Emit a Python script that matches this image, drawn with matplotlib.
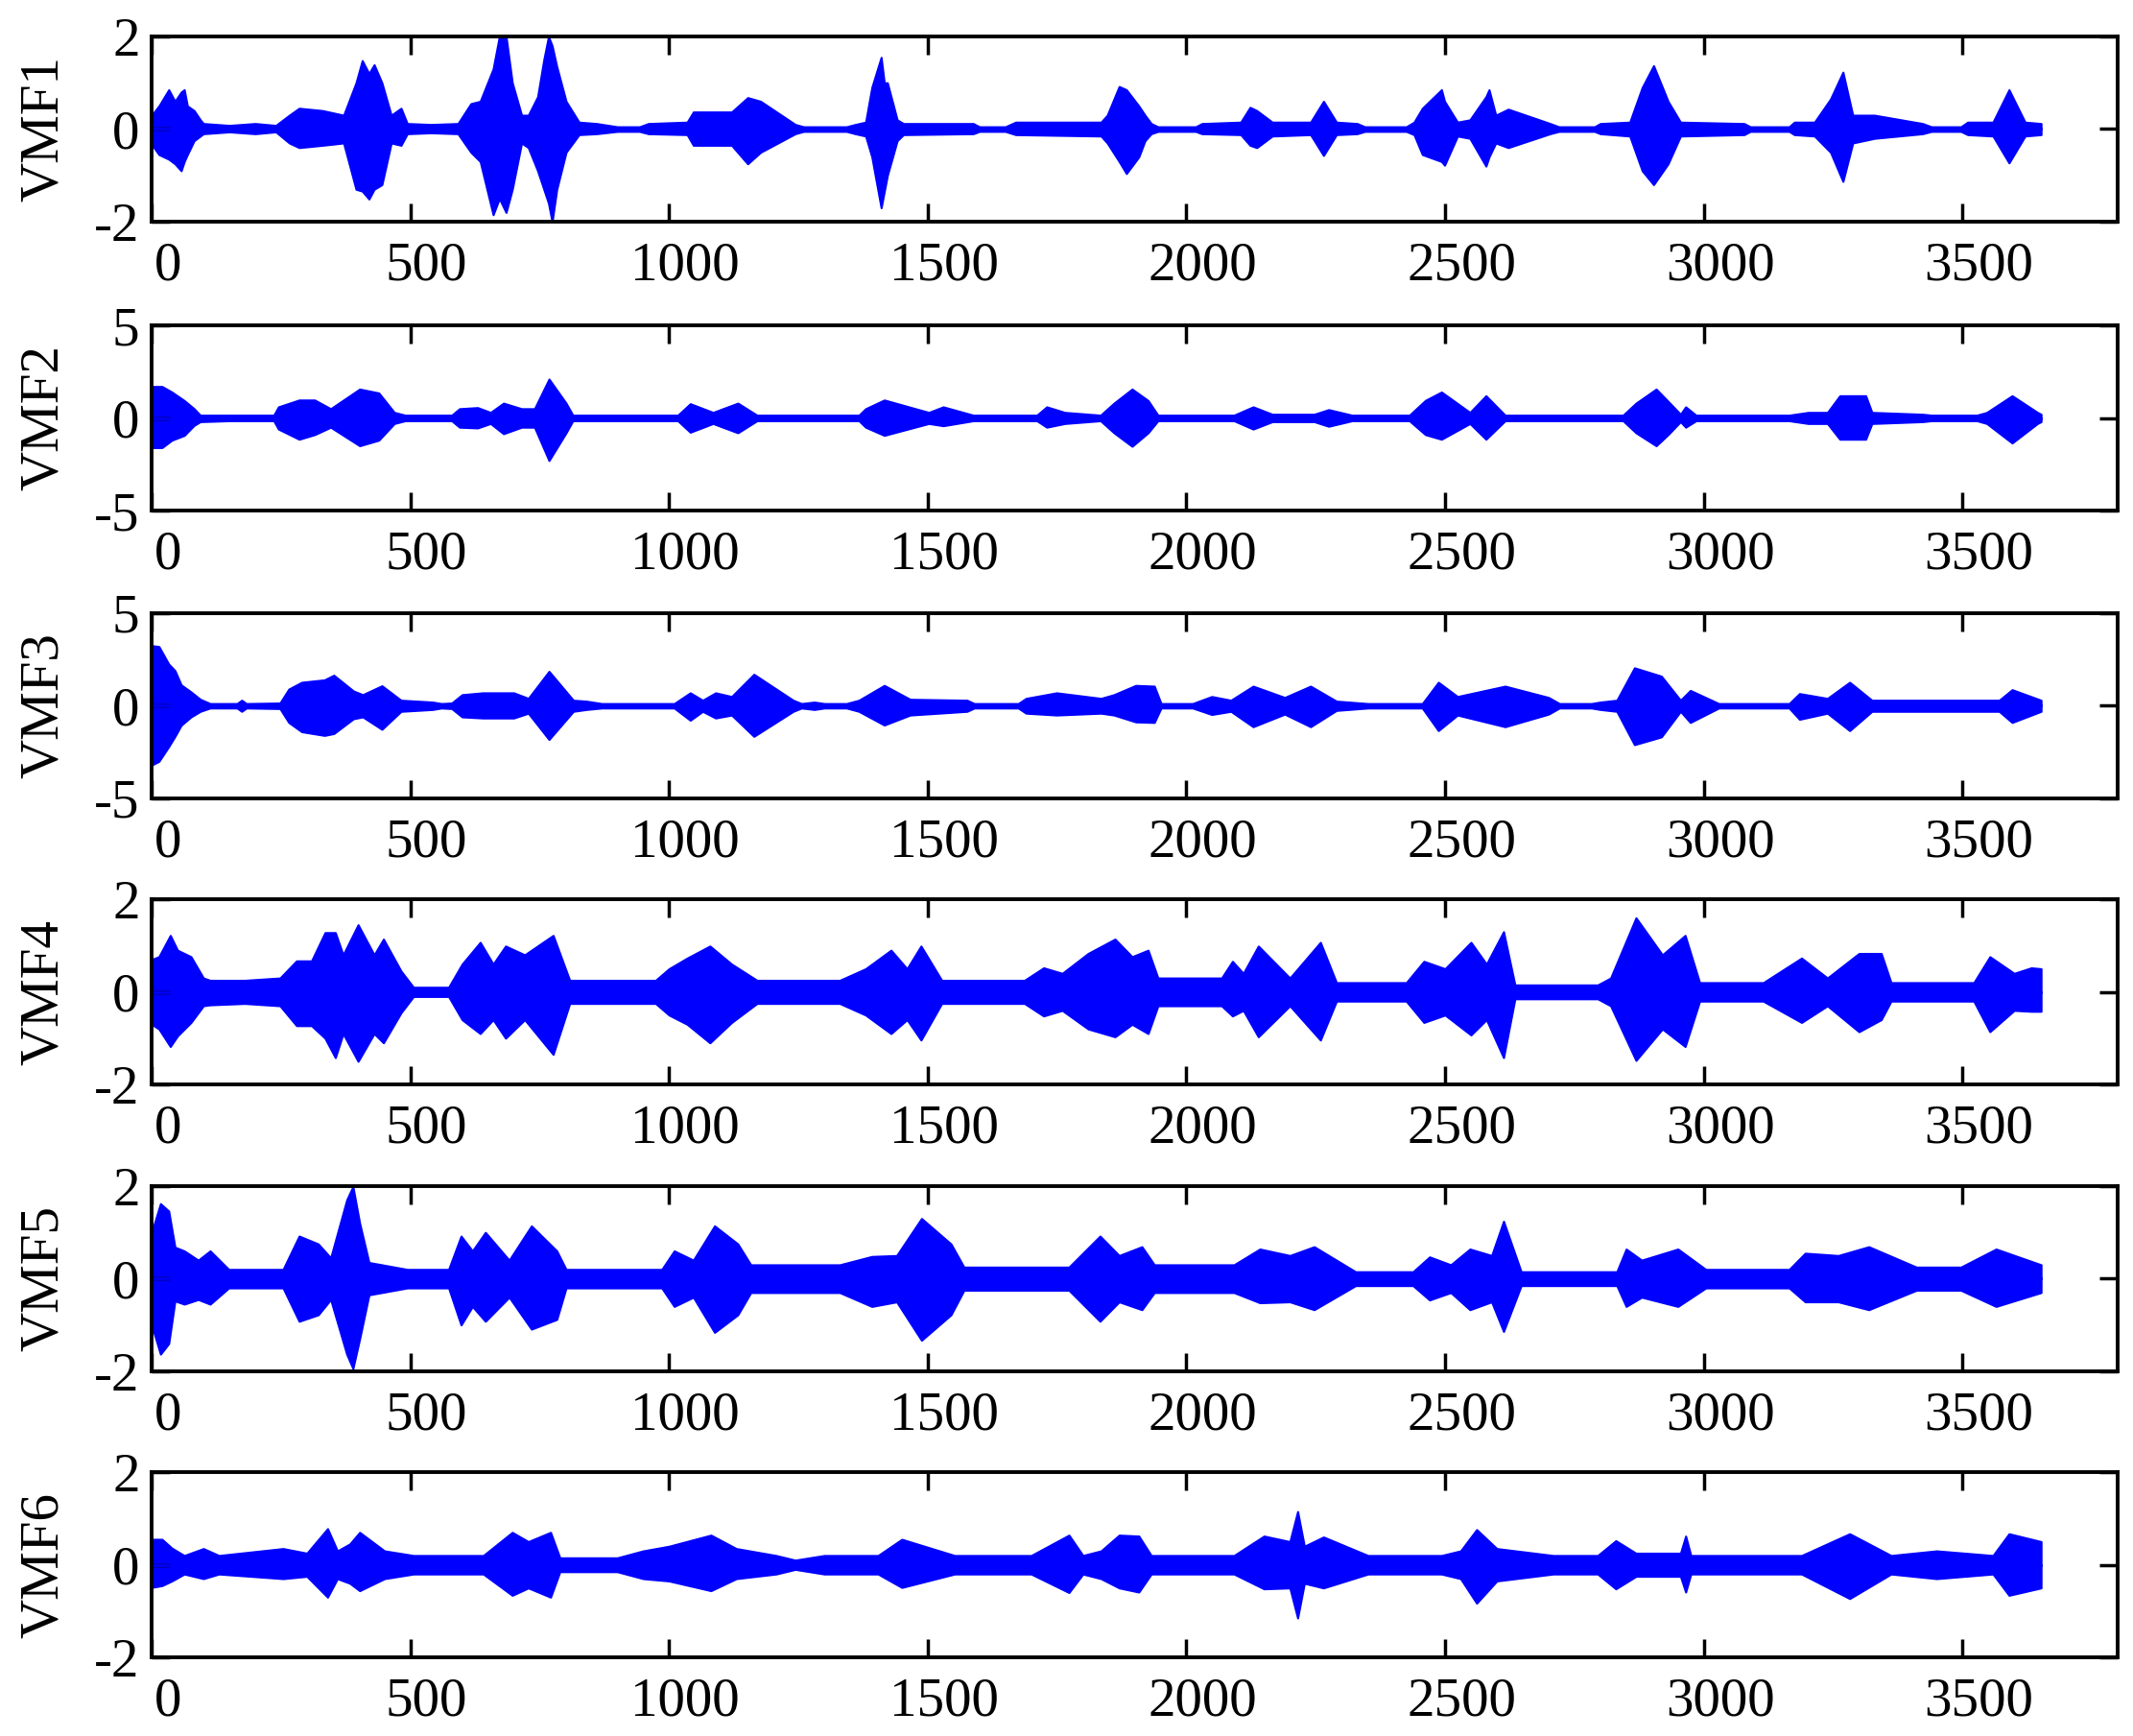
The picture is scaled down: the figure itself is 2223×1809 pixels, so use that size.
import matplotlib.pyplot as plt
import matplotlib.transforms as mtransforms
import numpy as np

plt.rcParams['font.family'] = ['Liberation Serif', 'DejaVu Serif']
plt.rcParams['axes.unicode_minus'] = False

names = ['VMF1', 'VMF2', 'VMF3', 'VMF4', 'VMF5', 'VMF6']
xticks = [0, 500, 1000, 1500, 2000, 2500, 3000, 3500]
ylims = [2, 5, 5, 2, 2, 2]

# envelope: (sample, upper, lower)
vmf1 = [(0, 0.30, -0.33), (14, 0.50, -0.55), (33, 0.85, -0.65), (45, 0.60, -0.75), (57, 0.80, -0.90),
        (63, 0.85, -0.70), (69, 0.50, -0.55), (82, 0.40, -0.25), (94, 0.20, -0.15), (100, 0.12, -0.10),
        (150, 0.08, -0.06), (200, 0.12, -0.10), (240, 0.08, -0.06), (266, 0.30, -0.30), (285, 0.45, -0.40),
        (330, 0.40, -0.35), (371, 0.30, -0.30), (395, 1.00, -1.30), (407, 1.48, -1.34), (420, 1.20, -1.51),
        (430, 1.39, -1.30), (445, 1.00, -1.20), (463, 0.30, -0.30), (482, 0.45, -0.35), (494, 0.12, -0.10),
        (540, 0.10, -0.08), (592, 0.12, -0.10), (617, 0.55, -0.50), (635, 0.60, -0.70), (660, 1.30, -1.85),
        (672, 2.00, -1.50), (685, 2.00, -1.80), (697, 1.00, -1.30), (715, 0.30, -0.30), (728, 0.30, -0.40),
        (746, 0.70, -0.90), (758, 1.50, -1.30), (767, 2.00, -1.60), (774, 1.80, -2.00), (783, 1.35, -1.30),
        (801, 0.60, -0.50), (826, 0.15, -0.12), (860, 0.12, -0.10), (900, 0.05, -0.05), (943, 0.05, -0.05),
        (960, 0.12, -0.10), (1035, 0.15, -0.12), (1047, 0.37, -0.35), (1121, 0.37, -0.35), (1152, 0.68, -0.75),
        (1177, 0.60, -0.50), (1244, 0.10, -0.10), (1260, 0.05, -0.05), (1343, 0.05, -0.05), (1360, 0.10, -0.10),
        (1380, 0.15, -0.15), (1392, 0.90, -0.60), (1410, 1.55, -1.70), (1416, 1.00, -1.35), (1422, 1.00, -1.00),
        (1441, 0.20, -0.25), (1453, 0.12, -0.12), (1588, 0.12, -0.10), (1600, 0.05, -0.05), (1650, 0.05, -0.05),
        (1670, 0.15, -0.12), (1835, 0.15, -0.15), (1847, 0.30, -0.30), (1870, 0.92, -0.70), (1884, 0.85, -0.96),
        (1908, 0.50, -0.60), (1920, 0.30, -0.25), (1932, 0.12, -0.10), (1945, 0.05, -0.05), (2018, 0.05, -0.05),
        (2030, 0.12, -0.10), (2105, 0.15, -0.12), (2123, 0.47, -0.35), (2136, 0.40, -0.40), (2166, 0.15, -0.15),
        (2240, 0.15, -0.12), (2265, 0.60, -0.57), (2290, 0.15, -0.12), (2330, 0.12, -0.10), (2345, 0.05, -0.05),
        (2425, 0.05, -0.05), (2440, 0.15, -0.12), (2456, 0.45, -0.55), (2493, 0.85, -0.70), (2499, 0.60, -0.78),
        (2524, 0.15, -0.15), (2548, 0.20, -0.20), (2579, 0.70, -0.80), (2585, 0.85, -0.60), (2598, 0.30, -0.30),
        (2622, 0.43, -0.40), (2703, 0.12, -0.10), (2720, 0.05, -0.05), (2789, 0.05, -0.05), (2800, 0.12, -0.10),
        (2857, 0.15, -0.15), (2881, 0.90, -0.90), (2903, 1.37, -1.20), (2931, 0.60, -0.75), (2955, 0.15, -0.15),
        (3078, 0.12, -0.12), (3090, 0.05, -0.05), (3165, 0.05, -0.05), (3175, 0.15, -0.12), (3214, 0.15, -0.15),
        (3245, 0.65, -0.50), (3269, 1.23, -1.13), (3288, 0.30, -0.30), (3330, 0.30, -0.20), (3423, 0.12, -0.10),
        (3440, 0.05, -0.05), (3497, 0.05, -0.05), (3510, 0.15, -0.12), (3559, 0.15, -0.15), (3590, 0.85, -0.73),
        (3621, 0.15, -0.15), (3652, 0.12, -0.12)]

vmf2 = [(0, 1.70, -1.60), (20, 1.70, -1.60), (39, 1.40, -1.20), (63, 0.94, -0.94), (82, 0.50, -0.40),
        (94, 0.15, -0.20), (150, 0.15, -0.15), (236, 0.15, -0.15), (245, 0.60, -0.60), (285, 0.97, -1.15),
        (315, 0.97, -0.90), (346, 0.50, -0.50), (402, 1.56, -1.50), (439, 1.35, -1.20), (469, 0.30, -0.30),
        (490, 0.15, -0.15), (580, 0.15, -0.15), (595, 0.50, -0.50), (630, 0.56, -0.54), (655, 0.30, -0.30),
        (680, 0.80, -0.85), (715, 0.50, -0.50), (740, 0.50, -0.50), (768, 2.10, -2.30), (801, 0.80, -0.80),
        (814, 0.15, -0.15), (1017, 0.15, -0.15), (1041, 0.77, -0.77), (1085, 0.30, -0.30), (1133, 0.80, -0.80),
        (1170, 0.15, -0.15), (1367, 0.15, -0.15), (1380, 0.50, -0.50), (1416, 0.97, -0.94), (1502, 0.30, -0.30),
        (1530, 0.60, -0.42), (1588, 0.15, -0.15), (1711, 0.15, -0.15), (1730, 0.60, -0.50), (1765, 0.30, -0.30),
        (1834, 0.15, -0.15), (1860, 0.80, -0.80), (1895, 1.56, -1.53), (1926, 0.94, -0.80), (1945, 0.15, -0.15),
        (2092, 0.15, -0.15), (2129, 0.60, -0.60), (2166, 0.20, -0.20), (2247, 0.20, -0.20), (2275, 0.45, -0.45),
        (2320, 0.15, -0.15), (2431, 0.15, -0.15), (2462, 0.95, -0.90), (2493, 1.40, -1.15), (2548, 0.30, -0.30),
        (2579, 1.20, -1.15), (2616, 0.15, -0.15), (2844, 0.15, -0.15), (2869, 0.80, -0.80), (2908, 1.56, -1.50),
        (2931, 0.90, -0.90), (2955, 0.20, -0.20), (2965, 0.60, -0.50), (2985, 0.15, -0.15), (3165, 0.15, -0.15),
        (3202, 0.30, -0.30), (3239, 0.30, -0.30), (3263, 1.20, -1.15), (3313, 1.20, -1.15), (3325, 0.30, -0.30),
        (3423, 0.20, -0.20), (3440, 0.15, -0.15), (3528, 0.15, -0.15), (3547, 0.30, -0.30), (3596, 1.20, -1.35),
        (3645, 0.30, -0.30), (3652, 0.20, -0.20)]

vmf3 = [(0, 3.25, -3.20), (14, 3.20, -3.00), (33, 2.25, -2.20), (45, 1.90, -1.65), (57, 1.13, -1.05),
        (76, 0.75, -0.60), (94, 0.35, -0.30), (113, 0.12, -0.12), (165, 0.12, -0.12), (174, 0.30, -0.30),
        (183, 0.12, -0.12), (248, 0.15, -0.15), (265, 0.90, -0.90), (290, 1.27, -1.40), (334, 1.40, -1.60),
        (352, 1.65, -1.50), (390, 0.80, -0.70), (408, 0.60, -0.60), (445, 1.08, -1.27), (482, 0.30, -0.30),
        (543, 0.20, -0.20), (560, 0.12, -0.12), (580, 0.15, -0.15), (600, 0.60, -0.60), (640, 0.70, -0.66),
        (700, 0.70, -0.66), (728, 0.40, -0.40), (768, 1.86, -1.82), (815, 0.30, -0.30), (840, 0.25, -0.20),
        (870, 0.12, -0.12), (1010, 0.12, -0.12), (1041, 0.70, -0.78), (1065, 0.30, -0.30), (1090, 0.70, -0.66),
        (1121, 0.50, -0.50), (1164, 1.70, -1.65), (1240, 0.30, -0.30), (1256, 0.12, -0.12), (1281, 0.20, -0.20),
        (1300, 0.12, -0.12), (1343, 0.12, -0.12), (1367, 0.30, -0.30), (1416, 1.10, -1.04), (1466, 0.35, -0.50),
        (1576, 0.30, -0.30), (1590, 0.12, -0.12), (1675, 0.12, -0.12), (1690, 0.40, -0.40), (1749, 0.70, -0.50),
        (1835, 0.40, -0.40), (1860, 0.60, -0.50), (1902, 1.10, -0.87), (1938, 1.06, -0.90), (1951, 0.12, -0.12),
        (2012, 0.12, -0.12), (2049, 0.50, -0.47), (2086, 0.30, -0.30), (2129, 1.06, -1.13), (2190, 0.45, -0.45),
        (2240, 1.06, -1.13), (2290, 0.25, -0.25), (2351, 0.12, -0.12), (2456, 0.12, -0.12), (2487, 1.27, -1.34),
        (2524, 0.50, -0.50), (2616, 1.06, -1.13), (2700, 0.45, -0.45), (2721, 0.12, -0.12), (2783, 0.12, -0.12),
        (2800, 0.20, -0.20), (2832, 0.30, -0.30), (2866, 2.05, -2.10), (2918, 1.60, -1.68), (2955, 0.30, -0.30),
        (2974, 0.83, -0.90), (3029, 0.12, -0.12), (3165, 0.12, -0.12), (3185, 0.66, -0.73), (3239, 0.40, -0.40),
        (3282, 1.27, -1.34), (3325, 0.30, -0.30), (3571, 0.30, -0.30), (3596, 0.87, -0.90), (3652, 0.30, -0.30)]

vmf4 = [(0, 0.70, -0.70), (14, 0.76, -0.80), (36, 1.22, -1.18), (50, 0.90, -0.95), (76, 0.76, -0.66),
        (100, 0.30, -0.30), (113, 0.25, -0.28), (180, 0.25, -0.25), (248, 0.30, -0.30), (280, 0.67, -0.73),
        (309, 0.67, -0.73), (335, 1.28, -1.00), (355, 1.28, -1.42), (370, 0.80, -0.90), (399, 1.45, -1.50),
        (430, 0.80, -0.90), (448, 1.14, -1.10), (482, 0.45, -0.45), (506, 0.10, -0.10), (574, 0.10, -0.10),
        (600, 0.60, -0.60), (635, 1.07, -0.90), (660, 0.60, -0.60), (684, 0.99, -1.00), (721, 0.80, -0.60),
        (776, 1.22, -1.35), (808, 0.25, -0.25), (974, 0.25, -0.25), (1000, 0.50, -0.50), (1035, 0.73, -0.70),
        (1079, 0.99, -1.10), (1121, 0.60, -0.66), (1170, 0.25, -0.25), (1330, 0.25, -0.25), (1380, 0.50, -0.50),
        (1429, 0.90, -0.90), (1460, 0.50, -0.60), (1487, 0.99, -1.04), (1527, 0.25, -0.25), (1687, 0.25, -0.25),
        (1724, 0.52, -0.52), (1760, 0.40, -0.40), (1810, 0.83, -0.80), (1862, 1.14, -0.97), (1895, 0.76, -0.70),
        (1926, 0.90, -0.90), (1945, 0.30, -0.30), (2068, 0.30, -0.30), (2089, 0.66, -0.52), (2110, 0.40, -0.40),
        (2139, 0.99, -0.97), (2200, 0.30, -0.30), (2259, 1.07, -1.04), (2290, 0.20, -0.20), (2425, 0.20, -0.20),
        (2459, 0.66, -0.66), (2500, 0.50, -0.50), (2550, 1.07, -0.93), (2580, 0.60, -0.60), (2613, 1.30, -1.42),
        (2635, 0.15, -0.15), (2795, 0.15, -0.15), (2820, 0.30, -0.30), (2869, 1.60, -1.48), (2920, 0.80, -0.80),
        (2964, 1.22, -1.18), (2992, 0.20, -0.20), (3115, 0.20, -0.20), (3189, 0.73, -0.66), (3239, 0.30, -0.30),
        (3300, 0.83, -0.86), (3343, 0.83, -0.60), (3362, 0.20, -0.20), (3522, 0.20, -0.20), (3553, 0.76, -0.86),
        (3600, 0.40, -0.40), (3633, 0.52, -0.42), (3652, 0.50, -0.42)]

vmf5 = [(0, 1.00, -1.00), (17, 1.62, -1.63), (33, 1.46, -1.40), (45, 0.68, -0.48), (63, 0.60, -0.55),
        (90, 0.40, -0.45), (113, 0.60, -0.55), (149, 0.20, -0.20), (254, 0.20, -0.20), (285, 0.92, -0.92),
        (322, 0.75, -0.78), (346, 0.45, -0.45), (377, 1.70, -1.63), (389, 1.99, -1.94), (402, 1.20, -1.30),
        (420, 0.35, -0.35), (494, 0.20, -0.20), (574, 0.20, -0.20), (598, 0.92, -1.00), (620, 0.60, -0.60),
        (645, 1.00, -0.92), (691, 0.40, -0.40), (734, 1.14, -1.09), (783, 0.60, -0.88), (801, 0.20, -0.20),
        (986, 0.20, -0.20), (1010, 0.60, -0.60), (1047, 0.40, -0.40), (1088, 1.14, -1.16), (1133, 0.75, -0.78),
        (1158, 0.30, -0.30), (1330, 0.30, -0.30), (1392, 0.48, -0.60), (1440, 0.50, -0.50), (1488, 1.30, -1.33),
        (1545, 0.75, -0.78), (1570, 0.25, -0.25), (1773, 0.25, -0.25), (1833, 0.92, -0.92), (1870, 0.50, -0.50),
        (1914, 0.69, -0.67), (1938, 0.30, -0.30), (2092, 0.30, -0.30), (2142, 0.64, -0.52), (2200, 0.50, -0.50),
        (2247, 0.69, -0.67), (2327, 0.15, -0.15), (2438, 0.15, -0.15), (2470, 0.47, -0.46), (2511, 0.30, -0.30),
        (2548, 0.64, -0.67), (2590, 0.50, -0.50), (2613, 1.24, -1.14), (2647, 0.15, -0.15), (2832, 0.15, -0.15),
        (2850, 0.64, -0.60), (2880, 0.40, -0.40), (2950, 0.64, -0.60), (3004, 0.20, -0.20), (3165, 0.20, -0.20),
        (3196, 0.55, -0.50), (3260, 0.50, -0.50), (3319, 0.69, -0.67), (3411, 0.25, -0.25), (3497, 0.25, -0.25),
        (3565, 0.64, -0.60), (3652, 0.30, -0.30)]

vmf6 = [(0, 0.55, -0.49), (20, 0.55, -0.45), (39, 0.36, -0.35), (63, 0.20, -0.20), (100, 0.35, -0.30),
        (130, 0.20, -0.20), (254, 0.35, -0.30), (300, 0.25, -0.25), (340, 0.78, -0.70), (359, 0.30, -0.30),
        (383, 0.45, -0.40), (402, 0.70, -0.56), (450, 0.30, -0.30), (506, 0.20, -0.20), (641, 0.20, -0.20),
        (697, 0.70, -0.66), (728, 0.50, -0.50), (771, 0.70, -0.70), (789, 0.15, -0.15), (900, 0.15, -0.15),
        (950, 0.30, -0.30), (1000, 0.40, -0.35), (1081, 0.64, -0.56), (1130, 0.35, -0.30), (1207, 0.20, -0.20),
        (1244, 0.10, -0.10), (1300, 0.20, -0.20), (1404, 0.20, -0.20), (1450, 0.55, -0.49), (1552, 0.20, -0.20),
        (1700, 0.20, -0.20), (1773, 0.64, -0.60), (1800, 0.20, -0.20), (1835, 0.30, -0.30), (1870, 0.64, -0.50),
        (1908, 0.62, -0.59), (1932, 0.20, -0.20), (2092, 0.20, -0.20), (2150, 0.62, -0.52), (2200, 0.50, -0.50),
        (2215, 1.15, -1.15), (2228, 0.40, -0.40), (2265, 0.60, -0.50), (2351, 0.20, -0.20), (2493, 0.20, -0.20),
        (2530, 0.30, -0.30), (2561, 0.76, -0.83), (2600, 0.35, -0.35), (2709, 0.20, -0.20), (2795, 0.20, -0.20),
        (2830, 0.52, -0.52), (2869, 0.25, -0.25), (2955, 0.25, -0.25), (2965, 0.62, -0.59), (2975, 0.20, -0.20),
        (3189, 0.20, -0.20), (3282, 0.67, -0.73), (3362, 0.20, -0.20), (3450, 0.30, -0.30), (3559, 0.20, -0.20),
        (3590, 0.67, -0.66), (3652, 0.50, -0.50)]

series = [vmf1, vmf2, vmf3, vmf4, vmf5, vmf6]

fig = plt.figure(figsize=(22.23, 18.09), dpi=100)

left, width, height = 0.0711, 0.9217, 0.1067
bottoms = [0.8723, 0.7059, 0.5401, 0.3753, 0.2101, 0.0453]
blue = '#0000FF'
# tick labels in the source sit a little right of their ticks
shift = mtransforms.ScaledTranslation(0.17, 0, fig.dpi_scale_trans)

for i in range(6):
    ax = fig.add_axes([left, bottoms[i], width, height])
    d = np.array(series[i])
    ax.fill_between(d[:, 0], d[:, 2], d[:, 1], facecolor=blue, edgecolor=blue, lw=1.5)
    ax.plot(d[:, 0], np.zeros(len(d)), color=blue, lw=2)
    lim = ylims[i]
    ax.set_xlim(0, 3800)
    ax.set_ylim(-lim, lim)
    ax.set_xticks(xticks)
    ax.set_yticks([-lim, 0, lim])
    ax.set_yticklabels([str(-lim), '0', str(lim)])
    ax.tick_params(direction='in', top=True, right=True, length=14, width=2.5, labelsize=41)
    ax.tick_params(axis='x', pad=15)
    ax.tick_params(axis='y', pad=9)
    for lab in ax.get_xticklabels():
        lab.set_transform(lab.get_transform() + shift)
    for s in ax.spines.values():
        s.set_linewidth(2.8)
    ax.set_ylabel(names[i], fontsize=41)
    ax.yaxis.set_label_coords(-0.042, 0.5)

fig.savefig('out.png', dpi=100)
